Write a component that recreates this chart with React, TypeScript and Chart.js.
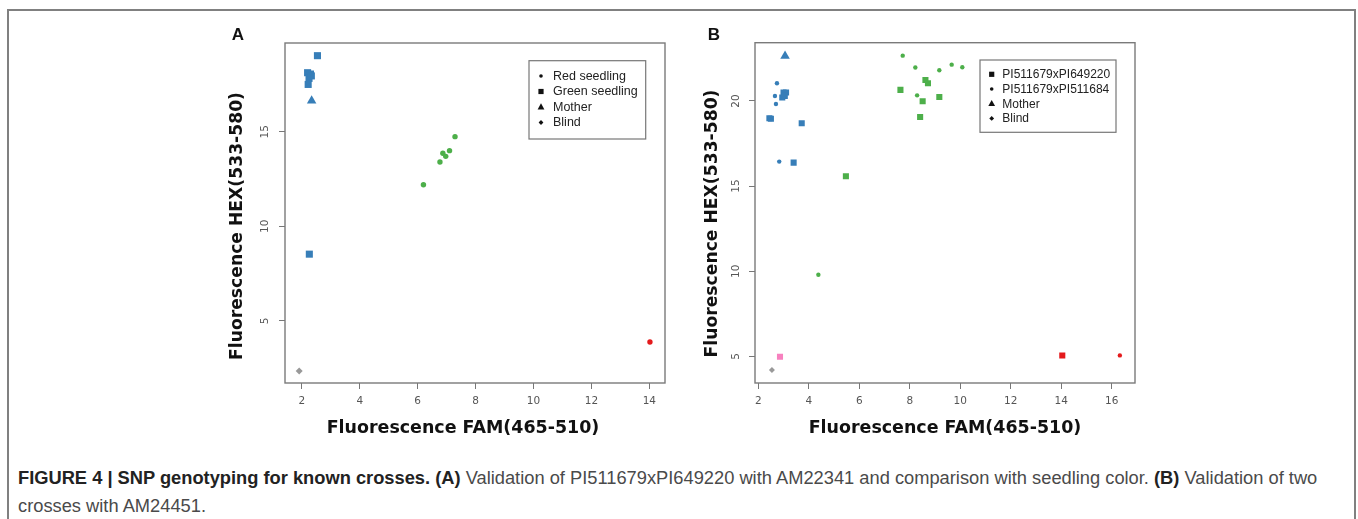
import React, { useEffect, useRef } from "react";
import { Chart, registerables } from "chart.js";
Chart.register(...registerables);

const CALL_COLORS: Record<string, string> = {
  blue: "#377eb8",
  green: "#4daf4a",
  red: "#e41a1c",
  pink: "#f781bf",
  gray: "#999999",
};

// ---------- Panel A ----------
const aXTicks = [2, 4, 6, 8, 10, 12, 14];
const aYTicks = [5, 10, 15];
const aLegendLabels = ["Red seedling", "Green seedling", "Mother", "Blind"];
const aRedSeedlingX = [6.2, 6.77, 6.87, 6.97, 7.1, 7.29, 14.02];
const aRedSeedlingY = [12.2, 13.4, 13.86, 13.7, 14.0, 14.74, 3.89];
const aRedSeedlingCall = ["green", "green", "green", "green", "green", "green", "red"];
const aGreenSeedlingX = [2.54, 2.2, 2.3, 2.25, 2.33, 2.22, 2.26];
const aGreenSeedlingY = [19.02, 18.12, 18.05, 17.82, 17.95, 17.5, 8.53];
const aGreenSeedlingCall = ["blue", "blue", "blue", "blue", "blue", "blue", "blue"];
const aMotherX = [2.34];
const aMotherY = [16.64];
const aMotherCall = ["blue"];
const aBlindX = [1.91];
const aBlindY = [2.35];
const aBlindCall = ["gray"];

// ---------- Panel B ----------
const bXTicks = [2, 4, 6, 8, 10, 12, 14, 16];
const bYTicks = [5, 10, 15, 20];
const bLegendLabels = ["PI511679xPI649220", "PI511679xPI511684", "Mother", "Blind"];
const bCross1X = [3.0, 3.1, 2.95, 3.05, 2.44, 2.5, 3.72, 3.4, 5.47, 7.63, 8.62, 8.72, 8.51, 9.17, 8.41, 2.86, 14.04];
const bCross1Y = [20.5, 20.5, 20.2, 20.3, 18.98, 18.95, 18.69, 16.38, 15.58, 20.65, 21.23, 21.04, 19.98, 20.23, 19.06, 4.98, 5.05];
const bCross1Call = ["blue", "blue", "blue", "blue", "blue", "blue", "blue", "blue", "green", "green", "green", "green", "green", "green", "green", "pink", "red"];
const bCross2X = [2.74, 2.66, 2.7, 2.83, 7.72, 8.22, 9.17, 9.66, 10.08, 8.29, 4.38, 16.32];
const bCross2Y = [21.04, 20.29, 19.82, 16.44, 22.66, 21.96, 21.8, 22.13, 21.98, 20.33, 9.8, 5.06];
const bCross2Call = ["blue", "blue", "blue", "blue", "green", "green", "green", "green", "green", "green", "green", "red"];
const bMotherX = [3.06];
const bMotherY = [22.64];
const bMotherCall = ["blue"];
const bBlindX = [2.54];
const bBlindY = [4.2];
const bBlindCall = ["gray"];

const xTitle = "Fluorescence FAM(465-510)";
const yTitle = "Fluorescence HEX(533-580)";

function ds(label: string, xs: number[], ys: number[], calls: string[], style: string, radius: number) {
  const colors = calls.map((c) => CALL_COLORS[c]);
  return {
    label,
    data: xs.map((x, i) => ({ x, y: ys[i] })),
    pointStyle: style,
    pointRadius: radius,
    pointHoverRadius: radius,
    pointBackgroundColor: colors,
    backgroundColor: colors,
    pointBorderWidth: 0,
    borderWidth: 0,
    showLine: false,
  };
}

function drawSymbol(ctx: CanvasRenderingContext2D, style: string, x: number, y: number, r: number) {
  ctx.beginPath();
  if (style === "circle") {
    ctx.arc(x, y, r, 0, Math.PI * 2);
  } else if (style === "rect") {
    ctx.rect(x - r, y - r, 2 * r, 2 * r);
  } else if (style === "triangle") {
    ctx.moveTo(x, y - r * 1.1);
    ctx.lineTo(x + r, y + r * 0.7);
    ctx.lineTo(x - r, y + r * 0.7);
    ctx.closePath();
  } else {
    ctx.moveTo(x, y - r);
    ctx.lineTo(x + r, y);
    ctx.lineTo(x, y + r);
    ctx.lineTo(x - r, y);
    ctx.closePath();
  }
  ctx.fill();
}

interface PanelCfg {
  letter: string;
  letterX: number;
  letterY: number;
  yTicks: number[];
  yTickOffset: number;
  xTitleX: number;
  xTitleY: number;
  yTitleX: number;
  yTitleY: number;
  titleWidth: number;
  legendLabels: string[];
  legendStyles: string[];
  legendBox: [number, number, number, number];
  legendRow0: number;
  legendRowGap: number;
  legendSymX: number;
  legendTextX: number;
  legendFont: number;
}

function fittedBold(ctx: CanvasRenderingContext2D, text: string, width: number) {
  ctx.font = 'bold 20px "DejaVu Sans"';
  const w = ctx.measureText(text).width;
  const size = (20 * width) / w;
  ctx.font = `bold ${size.toFixed(2)}px "DejaVu Sans"`;
}

function overlay(p: PanelCfg) {
  return {
    id: "overlay",
    beforeDatasetsDraw(chart: any) {
      const { ctx, chartArea: ca } = chart;
      ctx.save();
      ctx.strokeStyle = "#7a7a7a";
      ctx.lineWidth = 1.4;
      ctx.strokeRect(ca.left, ca.top, ca.right - ca.left, ca.bottom - ca.top);
      ctx.restore();
    },
    afterDraw(chart: any) {
      const { ctx, chartArea: ca, scales } = chart;
      ctx.save();
      // y tick labels (rotated, R style)
      ctx.fillStyle = "#555";
      ctx.font = '10.5px "DejaVu Sans"';
      ctx.textAlign = "center";
      ctx.textBaseline = "middle";
      for (const v of p.yTicks) {
        const y = scales.y.getPixelForValue(v);
        ctx.save();
        ctx.translate(ca.left - p.yTickOffset, y);
        ctx.rotate(-Math.PI / 2);
        ctx.fillText(String(v), 0, 0);
        ctx.restore();
      }
      // axis titles
      ctx.fillStyle = "#111";
      fittedBold(ctx, xTitle, p.titleWidth);
      ctx.fillText(xTitle, p.xTitleX, p.xTitleY);
      ctx.save();
      ctx.translate(p.yTitleX, p.yTitleY);
      ctx.rotate(-Math.PI / 2);
      fittedBold(ctx, yTitle, p.titleWidth - 5);
      ctx.fillText(yTitle, 0, 0);
      ctx.restore();
      // panel letter
      ctx.font = 'bold 17px "Liberation Sans"';
      ctx.fillStyle = "#111";
      ctx.fillText(p.letter, p.letterX, p.letterY);
      // legend
      const [lx, ly, lw, lh] = p.legendBox;
      ctx.fillStyle = "#fff";
      ctx.fillRect(lx, ly, lw, lh);
      ctx.strokeStyle = "#777";
      ctx.lineWidth = 1.2;
      ctx.strokeRect(lx, ly, lw, lh);
      ctx.font = `${p.legendFont}px "Liberation Sans"`;
      ctx.textAlign = "left";
      p.legendLabels.forEach((lab, i) => {
        const y = p.legendRow0 + i * p.legendRowGap;
        ctx.fillStyle = "#111";
        const st = p.legendStyles[i];
        const r = st === "circle" ? 1.8 : st === "rect" ? 2.6 : st === "triangle" ? 3.4 : 2.4;
        drawSymbol(ctx, st, p.legendSymX, y, r);
        ctx.fillStyle = "#222";
        ctx.fillText(lab, p.legendTextX, y + 0.5);
      });
      ctx.restore();
    },
  };
}

function scalesFor(xMin: number, xMax: number, yMin: number, yMax: number, xTicks: number[], yTicks: number[], yWidth: number, xHeight: number) {
  const grid = { drawOnChartArea: false, drawTicks: true, tickLength: 6, color: "#777", lineWidth: 1 };
  return {
    x: {
      type: "linear",
      min: xMin,
      max: xMax,
      afterBuildTicks: (s: any) => {
        s.ticks = xTicks.map((v) => ({ value: v }));
      },
      ticks: { font: { family: "DejaVu Sans", size: 10.5 }, color: "#555", padding: 6, maxRotation: 0, autoSkip: false, callback: (v: any) => String(v) },
      grid,
      border: { display: false },
      afterFit: (s: any) => {
        s.height = xHeight;
      },
    },
    y: {
      type: "linear",
      min: yMin,
      max: yMax,
      afterBuildTicks: (s: any) => {
        s.ticks = yTicks.map((v) => ({ value: v }));
      },
      ticks: { display: false },
      grid,
      border: { display: false },
      afterFit: (s: any) => {
        s.width = yWidth;
      },
    },
  };
}

function ScatterPanel(props: { left: number; top: number; width: number; height: number; config: any }) {
  const ref = useRef<HTMLCanvasElement | null>(null);
  useEffect(() => {
    if (!ref.current) return;
    const chart = new Chart(ref.current, props.config);
    return () => chart.destroy();
  }, []);
  return (
    <div style={{ position: "absolute", left: props.left, top: props.top, width: props.width, height: props.height }}>
      <canvas ref={ref} width={props.width} height={props.height} />
    </div>
  );
}

const baseOptions = {
  responsive: false,
  animation: false,
  plugins: { legend: { display: false }, tooltip: { enabled: false } },
  events: [],
};

const configA = {
  type: "scatter",
  data: {
    datasets: [
      ds(aLegendLabels[0], aRedSeedlingX, aRedSeedlingY, aRedSeedlingCall, "circle", 2.7),
      ds(aLegendLabels[1], aGreenSeedlingX, aGreenSeedlingY, aGreenSeedlingCall, "rect", 5),
      ds(aLegendLabels[2], aMotherX, aMotherY, aMotherCall, "triangle", 5.5),
      ds(aLegendLabels[3], aBlindX, aBlindY, aBlindCall, "rectRot", 3.5),
    ],
  },
  options: {
    ...baseOptions,
    layout: { padding: { top: 23, right: 15, left: 0, bottom: 0 } },
    scales: scalesFor(1.42, 14.54, 1.72, 19.69, aXTicks, aYTicks, 85, 67),
  },
  plugins: [
    overlay({
      letter: "A",
      letterX: 38,
      letterY: 15,
      yTicks: aYTicks,
      yTickOffset: 20,
      xTitleX: 263,
      xTitleY: 408,
      yTitleX: 38,
      yTitleY: 206,
      titleWidth: 273,
      legendLabels: aLegendLabels,
      legendStyles: ["circle", "rect", "triangle", "diamond"],
      legendBox: [329, 40.7, 116.7, 78.3],
      legendRow0: 56,
      legendRowGap: 15.5,
      legendSymX: 341,
      legendTextX: 353,
      legendFont: 12.5,
    }),
  ],
};

const configB = {
  type: "scatter",
  data: {
    datasets: [
      ds(bLegendLabels[0], bCross1X, bCross1Y, bCross1Call, "rect", 4.3),
      ds(bLegendLabels[1], bCross2X, bCross2Y, bCross2Call, "circle", 2.2),
      ds(bLegendLabels[2], bMotherX, bMotherY, bMotherCall, "triangle", 5.5),
      ds(bLegendLabels[3], bBlindX, bBlindY, bBlindCall, "rectRot", 3),
    ],
  },
  options: {
    ...baseOptions,
    layout: { padding: { top: 22.7, right: 25, left: 0, bottom: 0 } },
    scales: scalesFor(1.87, 16.92, 3.44, 23.42, bXTicks, bYTicks, 65, 67),
  },
  plugins: [
    overlay({
      letter: "B",
      letterX: 24,
      letterY: 15,
      yTicks: bYTicks,
      yTickOffset: 19,
      xTitleX: 255,
      xTitleY: 408,
      yTitleX: 23,
      yTitleY: 203.5,
      titleWidth: 273,
      legendLabels: bLegendLabels,
      legendStyles: ["rect", "circle", "triangle", "diamond"],
      legendBox: [290, 40, 136, 72.3],
      legendRow0: 54.3,
      legendRowGap: 14.7,
      legendSymX: 301.7,
      legendTextX: 312.3,
      legendFont: 12,
    }),
  ],
};

export default function App() {
  const capFont = '"Liberation Sans", Arial, sans-serif';
  const boldStyle = { color: "#222", fontWeight: 700 } as const;
  return (
    <div style={{ position: "absolute", left: 0, top: 0, width: 1358, height: 519, overflow: "hidden", background: "#fff" }}>
      <div
        style={{
          position: "absolute",
          left: 7,
          top: 9,
          width: 1349,
          height: 560,
          boxSizing: "border-box",
          border: "2px solid #808080",
        }}
      />
      <ScatterPanel left={200} top={20} width={480} height={430} config={configA} />
      <ScatterPanel left={690} top={20} width={470} height={430} config={configB} />
      <div
        style={{
          position: "absolute",
          left: 18,
          top: 464,
          width: 1312,
          fontFamily: capFont,
          fontSize: 18.3,
          lineHeight: "28px",
          color: "#4a4a4a",
        }}
      >
        <span style={boldStyle}>FIGURE 4 | SNP genotyping for known crosses. (A)</span> Validation of PI511679xPI649220 with AM22341 and
        comparison with seedling color. <span style={boldStyle}>(B)</span> Validation of two crosses with AM24451.
      </div>
    </div>
  );
}
